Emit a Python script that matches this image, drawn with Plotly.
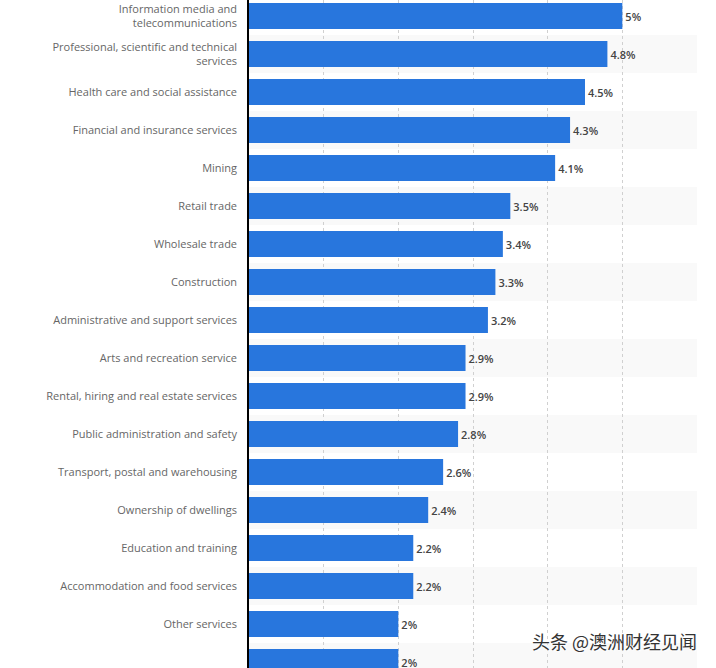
import plotly.graph_objects as go

categories = [
    "Information media and<br>telecommunications",
    "Professional, scientific and technical<br>services",
    "Health care and social assistance",
    "Financial and insurance services",
    "Mining",
    "Retail trade",
    "Wholesale trade",
    "Construction",
    "Administrative and support services",
    "Arts and recreation service",
    "Rental, hiring and real estate services",
    "Public administration and safety",
    "Transport, postal and warehousing",
    "Ownership of dwellings",
    "Education and training",
    "Accommodation and food services",
    "Other services",
    "Agriculture, forestry and fishing",
]
values = [5, 4.8, 4.5, 4.3, 4.1, 3.5, 3.4, 3.3, 3.2, 2.9, 2.9, 2.8, 2.6, 2.4, 2.2, 2.2, 2, 2]
labels = [f"{v:g}%" for v in values]

BAR = "#2876dd"

fig = go.Figure(go.Bar(
    x=values, y=list(range(len(categories))), orientation="h",
    marker=dict(color=BAR, line=dict(width=0)),
    text=labels, textposition="outside",
    textfont=dict(family="Open Sans", size=11, color="#444444", weight=600),
    cliponaxis=False,
    hoverinfo="skip",
))

shapes = []
for i in range(len(categories)):
    if i % 2 == 1:
        shapes.append(dict(type="rect", xref="paper", yref="y", x0=0, x1=1,
                           y0=i - 0.5, y1=i + 0.5, fillcolor="#f9f9f9",
                           line=dict(width=0), layer="below"))

fig.update_layout(
    width=716, height=668,
    margin=dict(l=249, r=19, t=0, b=0, autoexpand=False),
    paper_bgcolor="white", plot_bgcolor="white",
    bargap=0.32,
    showlegend=False,
    shapes=shapes,
    xaxis=dict(range=[0, 6], dtick=1, showgrid=True, gridcolor="#d0d0d0",
               griddash="dot", gridwidth=1, showticklabels=False, zeroline=False,
               ticks="", automargin=False),
    yaxis=dict(tickvals=list(range(len(categories))), ticktext=categories,
               range=[17.158, -0.421], showgrid=False, zeroline=False,
               showline=True, linecolor="#000000", linewidth=1.5, ticks="",
               ticklabelstandoff=8, automargin=False,
               tickfont=dict(family="Open Sans", size=11, color="#666666")),
    annotations=[dict(text="头条 @澳洲财经见闻", xref="paper", yref="paper",
                      x=(699 - 249) / 448, y=(668 - 641) / 668, xanchor="right", yanchor="middle",
                      showarrow=False,
                      font=dict(family="Noto Sans CJK SC", size=18, color="#333333",
                                shadow="1px 1px 2px #ffffff"))],
)

fig.write_html("out.html", config={"displayModeBar": False},
               post_script="document.body.style.margin='0';document.body.style.overflow='hidden';")
